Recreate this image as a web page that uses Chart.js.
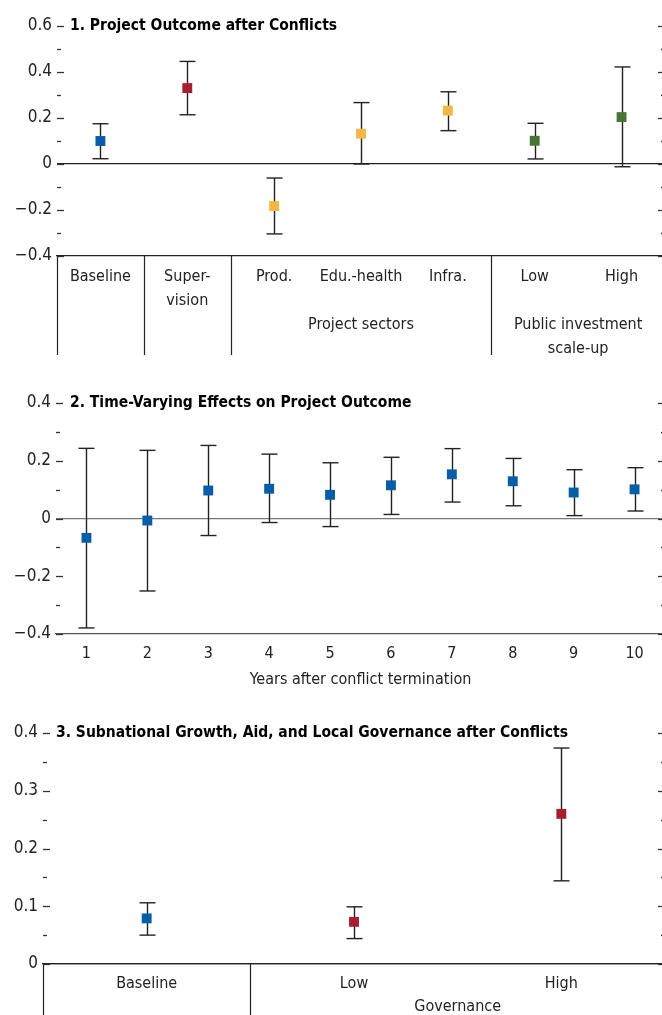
<!DOCTYPE html>
<html>
<head>
<meta charset="utf-8">
<script src="https://cdn.jsdelivr.net/npm/chart.js@4.4.1/dist/chart.umd.min.js"></script>
<style>
  html, body { margin: 0; padding: 0; background: #fff; overflow: hidden; }
  #wrap { position: relative; width: 662px; height: 1015px; overflow: hidden; }
  .panel { position: absolute; left: 0; width: 665px; }
</style>
</head>
<body>
<div id="wrap">
  <div class="panel" style="top:0"><canvas id="chart1" width="665" height="360"></canvas></div>
  <div class="panel" style="top:380px"><canvas id="chart2" width="665" height="320"></canvas></div>
  <div class="panel" style="top:715px"><canvas id="chart3" width="665" height="300"></canvas></div>
</div>
<script>
// Cores
const BLUE = '#075ea8';
const RED = '#a91d30';
const YELLOW = '#f3b843';
const GREEN = '#4a7434';
const INK = '#222';
const FONT = "'Liberation Sans Narrow', 'DejaVu Sans Condensed', 'Liberation Sans', sans-serif";

// --- DADOS ---

// 1. Project Outcome after Conflicts
const p1Labels = ['Baseline', ['Super-', 'vision'], 'Prod.', 'Edu.-health', 'Infra.', 'Low', 'High'];
const p1Values = [0.100, 0.330, -0.183, 0.132, 0.232, 0.101, 0.204];
const p1Lower  = [0.023, 0.214, -0.304, 0.000, 0.145, 0.022, -0.012];
const p1Upper  = [0.175, 0.446, -0.061, 0.267, 0.314, 0.177, 0.422];
const p1Colors = [BLUE, RED, YELLOW, YELLOW, YELLOW, GREEN, GREEN];
const p1TickLabels = [-0.4, -0.2, 0, 0.2, 0.4, 0.6];
const p1Groups = [
  { text: ['Project sectors'], from: 2, to: 4 },
  { text: ['Public investment', 'scale-up'], from: 5, to: 6 }
];
const p1Dividers = [0, 1, 2, 5];

// 2. Time-Varying Effects on Project Outcome
const p2Labels = ['1', '2', '3', '4', '5', '6', '7', '8', '9', '10'];
const p2Values = [-0.067, -0.007, 0.097, 0.103, 0.082, 0.115, 0.153, 0.129, 0.090, 0.101];
const p2Lower  = [-0.379, -0.251, -0.059, -0.014, -0.028, 0.014, 0.057, 0.044, 0.010, 0.026];
const p2Upper  = [0.243, 0.236, 0.253, 0.223, 0.193, 0.212, 0.242, 0.208, 0.169, 0.176];
const p2TickLabels = [-0.4, -0.2, 0, 0.2, 0.4];
const p2Groups = [{ text: ['Years after conflict termination'], from: 0, to: 9 }];

// 3. Subnational Growth, Aid, and Local Governance after Conflicts
const p3Labels = ['Baseline', 'Low', 'High'];
const p3Values = [0.079, 0.073, 0.260];
const p3Lower  = [0.050, 0.044, 0.144];
const p3Upper  = [0.106, 0.099, 0.374];
const p3Colors = [BLUE, RED, RED];
const p3TickLabels = [0, 0.1, 0.2, 0.3, 0.4];
const p3Groups = [{ text: ['Governance'], from: 1, to: 2 }];
const p3Dividers = [0, 1];

// --- PLUGIN DO PAINEL (barras de erro, ticks, título, grupos) ---

function isLabelled(value, list) {
  return list.some(v => Math.abs(v - value) < 1e-6);
}

function fmtTick(value) {
  if (Math.abs(value) < 1e-9) return '0';
  const s = Math.abs(value).toFixed(1);
  return value < 0 ? '\u2212' + s : s;
}

function strokeLine(ctx, x1, y1, x2, y2) {
  ctx.beginPath();
  ctx.moveTo(x1, y1);
  ctx.lineTo(x2, y2);
  ctx.stroke();
}

const panelPlugin = {
  id: 'panel',
  beforeDatasetsDraw(chart, args, opts) {
    // barras de erro, atrás dos quadrados
    const { ctx, scales: { y } } = chart;
    ctx.save();
    ctx.strokeStyle = INK;
    ctx.lineWidth = 1.4;
    chart.data.datasets.forEach((ds, di) => {
      const meta = chart.getDatasetMeta(di);
      meta.data.forEach((pt, i) => {
        const x = Math.round(pt.x) + 0.5;
        const lo = y.getPixelForValue(ds.lower[i]);
        const hi = y.getPixelForValue(ds.upper[i]);
        strokeLine(ctx, x, lo, x, hi);
        strokeLine(ctx, x - 8, lo, x + 8, lo);
        strokeLine(ctx, x - 8, hi, x + 8, hi);
      });
    });
    ctx.restore();
  },
  afterDraw(chart, args, opts) {
    const { ctx, chartArea, scales: { x, y } } = chart;
    ctx.save();

    // ticks internos dos dois lados
    ctx.strokeStyle = '#333';
    ctx.lineWidth = 1.3;
    y.ticks.forEach(t => {
      const py = Math.round(y.getPixelForValue(t.value)) + 0.5;
      const len = isLabelled(t.value, opts.tickLabels) ? 7 : 4;
      strokeLine(ctx, chartArea.left, py, chartArea.left + len, py);
      strokeLine(ctx, chartArea.right - len, py, chartArea.right, py);
    });

    // título
    ctx.fillStyle = '#000';
    ctx.font = 'bold 15.5px ' + FONT;
    ctx.textBaseline = 'middle';
    ctx.textAlign = 'left';
    ctx.fillText(opts.title, opts.titleX, y.getPixelForValue(y.max));

    // divisórias abaixo do eixo
    const n = chart.data.labels.length;
    const edge = i => i === 0 ? x.left : (i >= n ? x.right : (x.getPixelForValue(i - 1) + x.getPixelForValue(i)) / 2);
    ctx.strokeStyle = INK;
    ctx.lineWidth = 1.2;
    (opts.dividers || []).forEach(i => {
      const px = Math.round(edge(i)) + 0.5;
      strokeLine(ctx, px, chartArea.bottom, px, opts.dividerBottom);
    });

    // rótulos de grupo
    ctx.fillStyle = INK;
    ctx.font = '16px ' + FONT;
    ctx.textAlign = 'center';
    (opts.groups || []).forEach(g => {
      const cx = (edge(g.from) + edge(g.to + 1)) / 2;
      g.text.forEach((line, k) => ctx.fillText(line, cx, opts.groupY + k * 24));
    });
    ctx.restore();
  }
};

// --- GRÁFICOS ---

function makePanel(id, cfg) {
  const canvas = document.getElementById(id);
  if (!canvas) return console.error('Canvas não encontrado: ' + id);

  return new Chart(canvas.getContext('2d'), {
    type: 'line',
    data: {
      labels: cfg.labels,
      datasets: [{
        data: cfg.values,
        lower: cfg.lower,
        upper: cfg.upper,
        showLine: false,
        pointStyle: 'rect',
        pointRadius: 7,
        pointHoverRadius: 7,
        pointBorderWidth: 0,
        pointBackgroundColor: cfg.colors,
        pointBorderColor: cfg.colors
      }]
    },
    options: {
      responsive: false,
      animation: false,
      events: [],
      layout: { autoPadding: false, padding: { top: cfg.padTop, left: 0, right: 0, bottom: 0 } },
      plugins: {
        legend: { display: false },
        tooltip: { enabled: false },
        panel: {
          title: cfg.title,
          titleX: cfg.titleX,
          tickLabels: cfg.tickLabels,
          dividers: cfg.dividers,
          dividerBottom: cfg.dividerBottom,
          groups: cfg.groups,
          groupY: cfg.groupY
        }
      },
      scales: {
        x: {
          type: 'category',
          offset: true,
          grid: { display: false, drawTicks: false },
          border: { display: true, color: cfg.axisColor, width: 1.3 },
          ticks: {
            color: INK,
            font: { family: FONT, size: 16, lineHeight: 1.5 },
            padding: cfg.xPad,
            maxRotation: 0,
            autoSkip: false
          },
          afterFit: s => { s.height = cfg.xHeight; s.paddingLeft = 0; s.paddingRight = 0; }
        },
        y: {
          min: cfg.min,
          max: cfg.max,
          border: { display: false },
          grid: {
            drawTicks: false,
            lineWidth: 1.2,
            color: c => Math.abs(c.tick.value) < 1e-9 ? cfg.zeroColor : 'transparent'
          },
          ticks: {
            stepSize: cfg.step,
            autoSkip: false,
            color: INK,
            padding: 5,
            font: { family: FONT, size: 17 },
            callback: v => isLabelled(v, cfg.tickLabels) ? fmtTick(v) : ''
          },
          afterFit: s => { s.width = cfg.yWidth; s.paddingTop = 0; s.paddingBottom = 0; }
        }
      }
    },
    plugins: [panelPlugin]
  });
}

makePanel('chart1', {
  labels: p1Labels, values: p1Values, lower: p1Lower, upper: p1Upper, colors: p1Colors,
  min: -0.4, max: 0.6, step: 0.1, tickLabels: p1TickLabels,
  title: '1. Project Outcome after Conflicts', titleX: 70,
  yWidth: 57, padTop: 26, xHeight: 104, xPad: 9,
  axisColor: INK, zeroColor: INK,
  dividers: p1Dividers, dividerBottom: 355, groups: p1Groups, groupY: 325
});

makePanel('chart2', {
  labels: p2Labels, values: p2Values, lower: p2Lower, upper: p2Upper, colors: BLUE,
  min: -0.4, max: 0.4, step: 0.1, tickLabels: p2TickLabels,
  title: '2. Time-Varying Effects on Project Outcome', titleX: 70,
  yWidth: 56, padTop: 23, xHeight: 66, xPad: 8,
  axisColor: '#555', zeroColor: '#777',
  dividers: [], dividerBottom: 0, groups: p2Groups, groupY: 300
});

makePanel('chart3', {
  labels: p3Labels, values: p3Values, lower: p3Lower, upper: p3Upper, colors: p3Colors,
  min: 0, max: 0.4, step: 0.05, tickLabels: p3TickLabels,
  title: '3. Subnational Growth, Aid, and Local Governance after Conflicts', titleX: 56,
  yWidth: 43, padTop: 18, xHeight: 51, xPad: 8,
  axisColor: INK, zeroColor: INK,
  dividers: p3Dividers, dividerBottom: 300, groups: p3Groups, groupY: 292
});
</script>
</body>
</html>
